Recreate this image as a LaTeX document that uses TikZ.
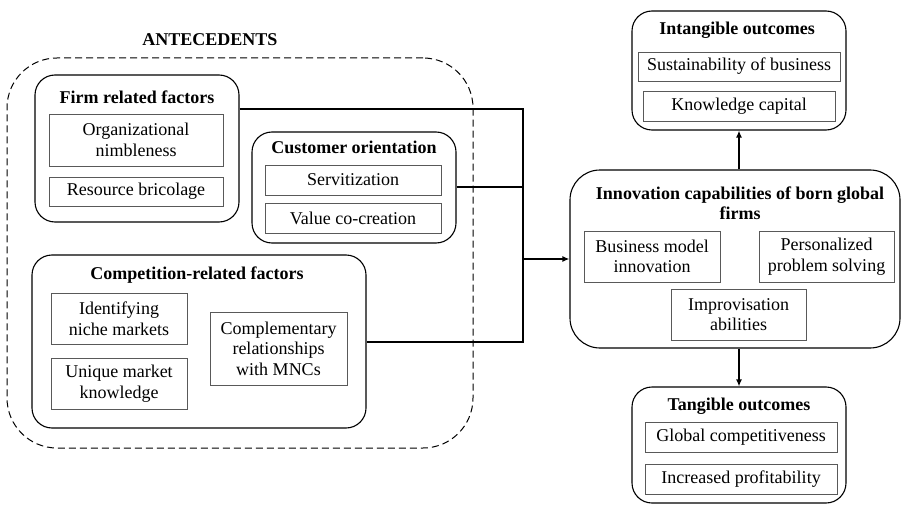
\documentclass[tikz,border=0pt]{standalone}
\usepackage{fontspec}
\setmainfont{Liberation Serif}
\usetikzlibrary{arrows.meta}
\begin{document}
\begin{tikzpicture}[x=1pt,y=-1pt,
  txt/.style={font=\fontsize{18}{20.5}\selectfont},
  group/.style={draw, line width=1.1pt, rounded corners=20pt, inner sep=0pt},
  item/.style={txt, draw=black!65, line width=0.9pt, align=center, inner sep=0pt},
  head/.style={font=\fontsize{18}{20.5}\selectfont\bfseries, align=center, inner sep=0pt},
  link/.style={line width=1.8pt},
  arr/.style={line width=1.8pt, -{Latex[length=7pt,width=6pt]}}]
\useasboundingbox (0,0) rectangle (901,505);

% antecedents frame
\node[head] (anteT) at (210,40) {ANTECEDENTS};
\node[draw, dash pattern=on 7pt off 4pt, line width=1pt, rounded corners=50pt,
      minimum width=466pt, minimum height=390pt, inner sep=0pt] (ante) at (240,253) {};

% firm related factors
\node[group, minimum width=204pt, minimum height=147pt] (firm) at (137,148.5) {};
\node[head] (firmT) at (137,97) {Firm related factors};
\node[item, minimum width=174pt, minimum height=52pt] (orgn) at (136,140) {Organizational\\nimbleness};
\node[item, minimum width=174pt, minimum height=29pt] (resb) at (136,191.5) {Resource bricolage};

% customer orientation
\node[group, minimum width=204pt, minimum height=111pt] (cust) at (354,187.5) {};
\node[head] (custT) at (354,147) {Customer orientation};
\node[item, minimum width=176pt, minimum height=30pt] (serv) at (353,180) {Servitization};
\node[item, minimum width=176pt, minimum height=30pt] (vcc) at (353,218) {Value co-creation};

% competition-related factors
\node[group, minimum width=334pt, minimum height=173pt] (comp) at (199,341.5) {};
\node[head] (compT) at (197,275) {Competition-related factors};
\node[item, minimum width=136pt, minimum height=51pt] (niche) at (119,318.5) {Identifying\\niche markets};
\node[item, minimum width=136pt, minimum height=51pt] (uniq) at (119,383.5) {Unique market\\knowledge};
\node[item, minimum width=137pt, minimum height=73pt] (compl) at (278.5,348.5) {Complementary\\relationships\\with MNCs};

% innovation capabilities
\node[group, rounded corners=30pt, minimum width=330pt, minimum height=178pt] (innov) at (735,259) {};
\node[head] (innovT) at (740,203) {Innovation capabilities of born global\\firms};
\node[item, minimum width=136pt, minimum height=51pt] (bmi) at (652,256.5) {Business model\\innovation};
\node[item, minimum width=135pt, minimum height=51pt] (pps) at (826.5,256.5) {Personalized\\problem solving};
\node[item, minimum width=135pt, minimum height=51pt] (impr) at (738.5,314.5) {Improvisation\\abilities};

% intangible outcomes
\node[group, minimum width=214pt, minimum height=119pt] (intang) at (739,70.5) {};
\node[head] (intangT) at (737,30) {Intangible outcomes};
\node[item, minimum width=202pt, minimum height=29pt] (sust) at (739,66.5) {Sustainability of business};
\node[item, minimum width=192pt, minimum height=30pt] (know) at (739,106) {Knowledge capital};

% tangible outcomes
\node[group, minimum width=214pt, minimum height=116pt] (tang) at (739,445) {};
\node[head] (tangT) at (739,406) {Tangible outcomes};
\node[item, minimum width=192pt, minimum height=30pt] (glob) at (741,437) {Global competitiveness};
\node[item, minimum width=192pt, minimum height=30pt] (prof) at (741,479) {Increased profitability};

% connectors: three branches joined on one vertical bus
\coordinate (jtop) at (523,109);
\coordinate (jmid) at (523,187);
\coordinate (jbot) at (523,342);
\draw[link] (firm.east |- jtop) -- (jtop) -- (jbot) -- (comp.east |- jbot);
\draw[link] (cust.east |- jmid) -- (jmid);
\draw[arr] (jtop |- innov.west) -- (innov.west);
\draw[arr] (innov.north -| intang.south) -- (intang.south);
\draw[arr] (innov.south -| tang.north) -- (tang.north);
\end{tikzpicture}
\end{document}
